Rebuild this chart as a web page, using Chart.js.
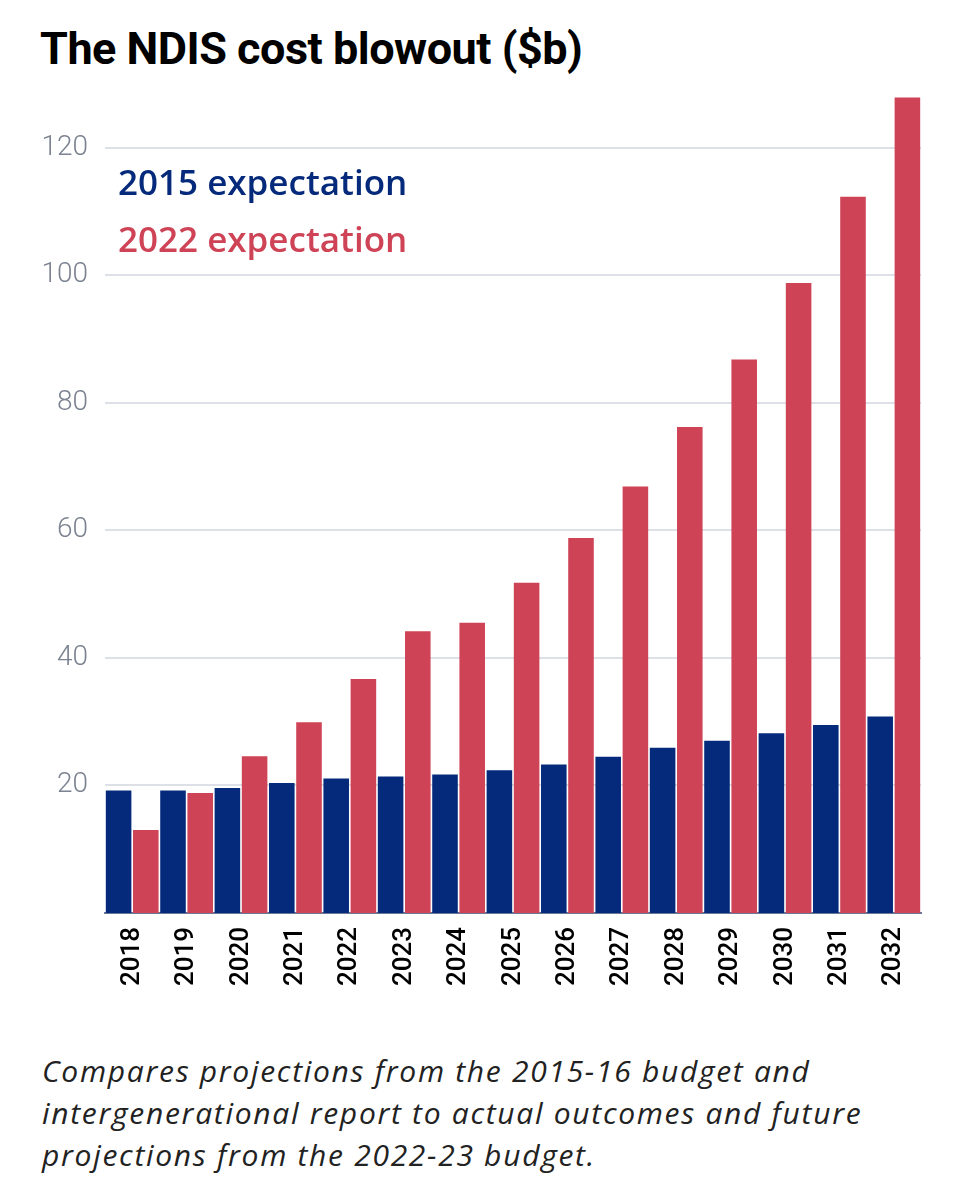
<!DOCTYPE html>
<html>
<head>
<meta charset="utf-8">
<script src="https://cdn.jsdelivr.net/npm/chart.js@4/dist/chart.umd.min.js"></script>
<style>
  body { margin: 0; background: #fff; width: 962px; height: 1199px; overflow: hidden; position: relative; }
  #title { position: absolute; left: 40px; top: 26px; font-family: Roboto, sans-serif; font-weight: 700; font-size: 45px; line-height: 45px; color: #000; letter-spacing: -0.5px; white-space: nowrap; }
  #wrap { position: absolute; left: 0; top: 0; width: 962px; height: 1020px; }
  #note { position: absolute; left: 42px; top: 1050px; font-family: "Open Sans", sans-serif; font-style: italic; font-size: 30px; line-height: 42px; letter-spacing: 1.7px; color: #222; white-space: nowrap; }
</style>
</head>
<body>
<div id="title">The NDIS cost blowout ($b)</div>
<div id="wrap"><canvas id="myChart"></canvas></div>
<div id="note">Compares projections from the 2015-16 budget and<br>intergenerational report to actual outcomes and future<br>projections from the 2022-23 budget.</div>
<script>
const years = ['2018', '2019', '2020', '2021', '2022', '2023', '2024', '2025', '2026', '2027', '2028', '2029', '2030', '2031', '2032'];
const exp2015 = [19.2, 19.2, 19.6, 20.4, 21.1, 21.4, 21.7, 22.4, 23.3, 24.5, 25.9, 27.0, 28.2, 29.5, 30.8];
const exp2022 = [13.0, 18.8, 24.6, 29.9, 36.7, 44.2, 45.5, 51.8, 58.8, 66.9, 76.2, 86.8, 98.8, 112.3, 127.9];
const yTicks = [20, 40, 60, 80, 100, 120];

// draws the series names inside the plot, top left
const seriesLabels = {
    id: 'seriesLabels',
    afterDraw(chart) {
        const ctx = chart.ctx;
        const area = chart.chartArea;
        ctx.save();
        ctx.font = '600 35px "Open Sans", sans-serif';
        ctx.textBaseline = 'alphabetic';
        ctx.textAlign = 'left';
        chart.data.datasets.forEach((ds, i) => {
            ctx.fillStyle = ds.backgroundColor;
            ctx.fillText(ds.label, area.left + 13, area.top + 111 + i * 57);
        });
        ctx.restore();
    }
};

const ctx = document.getElementById('myChart').getContext('2d');

window.myChart = new Chart(ctx, {
    type: 'bar',
    data: {
        labels: years,
        datasets: [{
            label: '2015 expectation',
            data: exp2015,
            backgroundColor: '#052a7b',
            barPercentage: 0.94,
            categoryPercentage: 1.0
        }, {
            label: '2022 expectation',
            data: exp2022,
            backgroundColor: '#cf4356',
            barPercentage: 0.94,
            categoryPercentage: 1.0
        }]
    },
    options: {
        responsive: true,
        maintainAspectRatio: false,
        animation: false,
        layout: {
            padding: { top: 84, right: 41, left: 0, bottom: 0 }
        },
        scales: {
            x: {
                afterFit: s => { s.height = 107; },
                grid: { display: false, drawTicks: false },
                border: { color: '#6b7895', width: 2 },
                ticks: {
                    color: '#000',
                    padding: 14,
                    minRotation: 90,
                    maxRotation: 90,
                    font: { family: 'Roboto', size: 26, weight: 500 }
                }
            },
            y: {
                min: 0,
                max: 130,
                afterFit: s => { s.width = 105; },
                afterBuildTicks: s => { s.ticks = yTicks.map(v => ({ value: v })); },
                grid: { color: '#dde0e6', lineWidth: 2, drawTicks: false },
                border: { display: false },
                ticks: {
                    color: '#7b8290',
                    padding: 17,
                    font: { family: 'Roboto', size: 28, weight: 300 }
                }
            }
        },
        plugins: {
            legend: { display: false },
            tooltip: { enabled: false }
        }
    },
    plugins: [seriesLabels]
});
</script>
</body>
</html>
